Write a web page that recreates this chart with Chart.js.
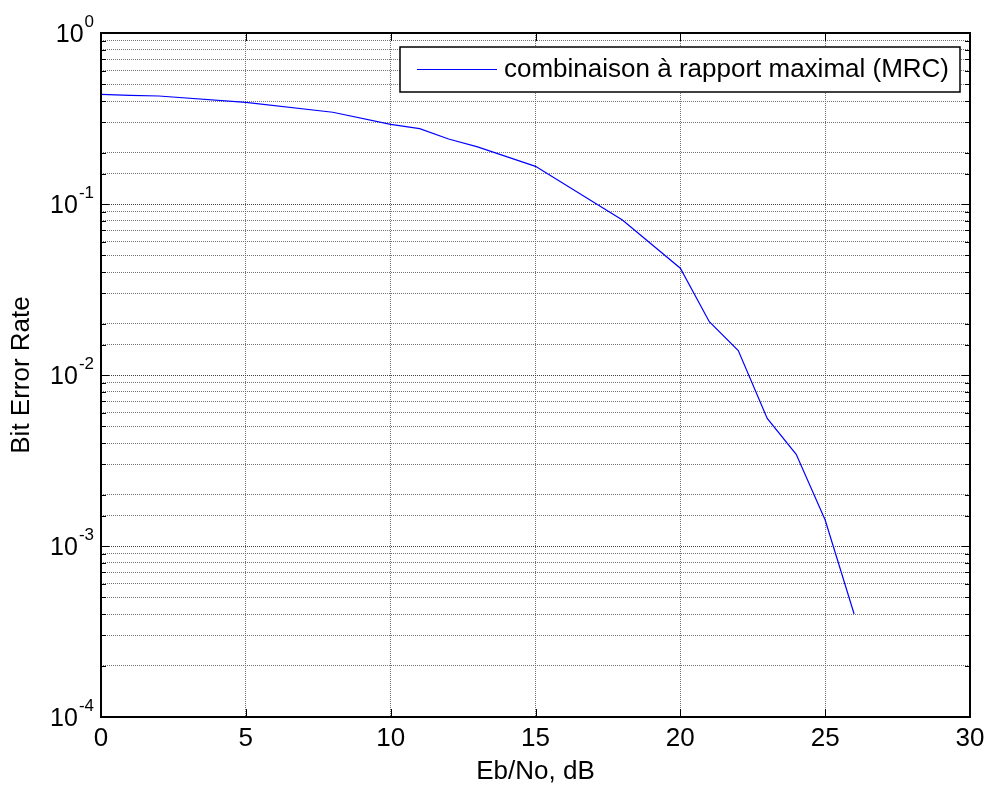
<!DOCTYPE html>
<html>
<head>
<meta charset="utf-8">
<script src="https://cdn.jsdelivr.net/npm/chart.js@4.4.1/dist/chart.umd.min.js"></script>
<style>
  html, body { margin: 0; padding: 0; background: #ffffff; }
  #wrap { width: 986px; height: 787px; }
</style>
</head>
<body>
<div id="wrap"><canvas id="ber" width="986" height="787"></canvas></div>
<script>
// Eb/No (dB) and measured bit error rate for maximal-ratio combining
const ebNoDb = [0, 1, 2, 5, 8, 10, 11, 12, 13, 15, 18, 20, 21, 22, 23, 24, 25, 26];
const berMrc = [0.438, 0.432, 0.428, 0.393, 0.344, 0.292, 0.276, 0.240, 0.216, 0.166,
                0.0806, 0.0421, 0.0205, 0.0139, 0.00557, 0.00344, 0.00142, 0.0004];
const seriesLabel = 'combinaison à rapport maximal (MRC)';
const xTitle = 'Eb/No, dB';
const yTitle = 'Bit Error Rate';
const xTicks = [0, 5, 10, 15, 20, 25, 30];
const yDecades = [0, -1, -2, -3, -4];

const FONT = 'Arial, "Liberation Sans", Helvetica, sans-serif';
const isDecade = v => Math.abs(Math.log10(v) - Math.round(Math.log10(v))) < 1e-9;

// Boxed axes with inward tick marks, superscript decade labels and an inset legend
const axesDecor = {
  id: 'axesDecor',
  afterDraw(chart) {
    const ctx = chart.ctx;
    const xs = chart.scales.x, ys = chart.scales.y;
    const a = chart.chartArea;
    ctx.save();
    ctx.strokeStyle = '#000';
    ctx.lineWidth = 1;

    // inward tick marks on all four sides
    ctx.beginPath();
    xTicks.forEach(v => {
      const px = Math.round(xs.getPixelForValue(v)) + 0.5;
      ctx.moveTo(px, a.bottom); ctx.lineTo(px, a.bottom - 8);
      ctx.moveTo(px, a.top); ctx.lineTo(px, a.top + 8);
    });
    ys.ticks.forEach(t => {
      const py = Math.round(ys.getPixelForValue(t.value)) + 0.5;
      const len = isDecade(t.value) ? 8 : 5;
      ctx.moveTo(a.left, py); ctx.lineTo(a.left + len, py);
      ctx.moveTo(a.right, py); ctx.lineTo(a.right - len, py);
    });
    ctx.stroke();

    // frame
    ctx.lineWidth = 2;
    ctx.strokeRect(a.left, a.top, a.right - a.left, a.bottom - a.top);

    // decade labels 10^n
    ctx.fillStyle = '#000';
    ctx.textBaseline = 'middle';
    yDecades.forEach(e => {
      const py = ys.getPixelForValue(Math.pow(10, e));
      const expText = String(e);
      ctx.font = '17px ' + FONT;
      ctx.textAlign = 'right';
      const rightX = a.left - 7;
      ctx.fillText(expText, rightX, py - 11);
      const ew = ctx.measureText(expText).width;
      ctx.font = '25px ' + FONT;
      ctx.fillText('10', rightX - ew - 1, py + 2);
    });

    // legend
    const ds = chart.data.datasets[0];
    const lx = 400, ly = 47, lw = 560, lh = 45;
    ctx.fillStyle = '#fff';
    ctx.fillRect(lx, ly, lw, lh);
    ctx.lineWidth = 1.5;
    ctx.strokeStyle = '#000';
    ctx.strokeRect(lx, ly, lw, lh);
    ctx.strokeStyle = ds.borderColor;
    ctx.lineWidth = 1;
    ctx.beginPath();
    ctx.moveTo(417, ly + 22.5); ctx.lineTo(497, ly + 22.5);
    ctx.stroke();
    ctx.fillStyle = '#000';
    ctx.font = '26px ' + FONT;
    ctx.textAlign = 'left';
    ctx.fillText(ds.label, 504, ly + 23);
    ctx.restore();
  }
};

const gridColor = ctx => (ctx.tick && isDecade(ctx.tick.value)) ? 'rgba(40,40,40,0.9)' : 'rgba(80,80,80,0.8)';

new Chart(document.getElementById('ber'), {
  type: 'line',
  data: {
    datasets: [{
      label: seriesLabel,
      data: ebNoDb.map((x, i) => ({ x, y: berMrc[i] })),
      borderColor: '#0000ff',
      borderWidth: 1.2,
      pointRadius: 0,
      tension: 0,
      fill: false
    }]
  },
  options: {
    responsive: false,
    animation: false,
    events: [],
    layout: { padding: { left: 0, right: 16, top: 33, bottom: 0 } },
    plugins: { legend: { display: false }, tooltip: { enabled: false } },
    scales: {
      x: {
        type: 'linear', min: 0, max: 30,
        afterBuildTicks(s) { s.ticks = xTicks.map(v => ({ value: v })); },
        ticks: { color: '#000', font: { family: FONT, size: 26 }, padding: 6, maxRotation: 0, autoSkip: false },
        grid: { color: 'rgba(80,80,80,0.8)', drawTicks: false, lineWidth: 1 },
        border: { display: false, dash: [1, 1] },
        title: { display: true, text: xTitle, color: '#000', font: { family: FONT, size: 26 }, padding: { top: 0, bottom: 0 } },
        afterFit(s) { s.height = 70; s.paddingLeft = 0; s.paddingRight = 0; }
      },
      y: {
        type: 'logarithmic', min: 1e-4, max: 1,
        ticks: { display: false, autoSkip: false, callback: v => String(v) },
        grid: { color: gridColor, drawTicks: false, lineWidth: 1 },
        border: { display: false, dash: [1, 1] },
        title: { display: true, text: yTitle, color: '#000', font: { family: FONT, size: 26 }, padding: { top: 6, bottom: 0 } },
        afterFit(s) { s.width = 101; s.paddingTop = 0; s.paddingBottom = 0; }
      }
    }
  },
  plugins: [axesDecor]
});
</script>
</body>
</html>
